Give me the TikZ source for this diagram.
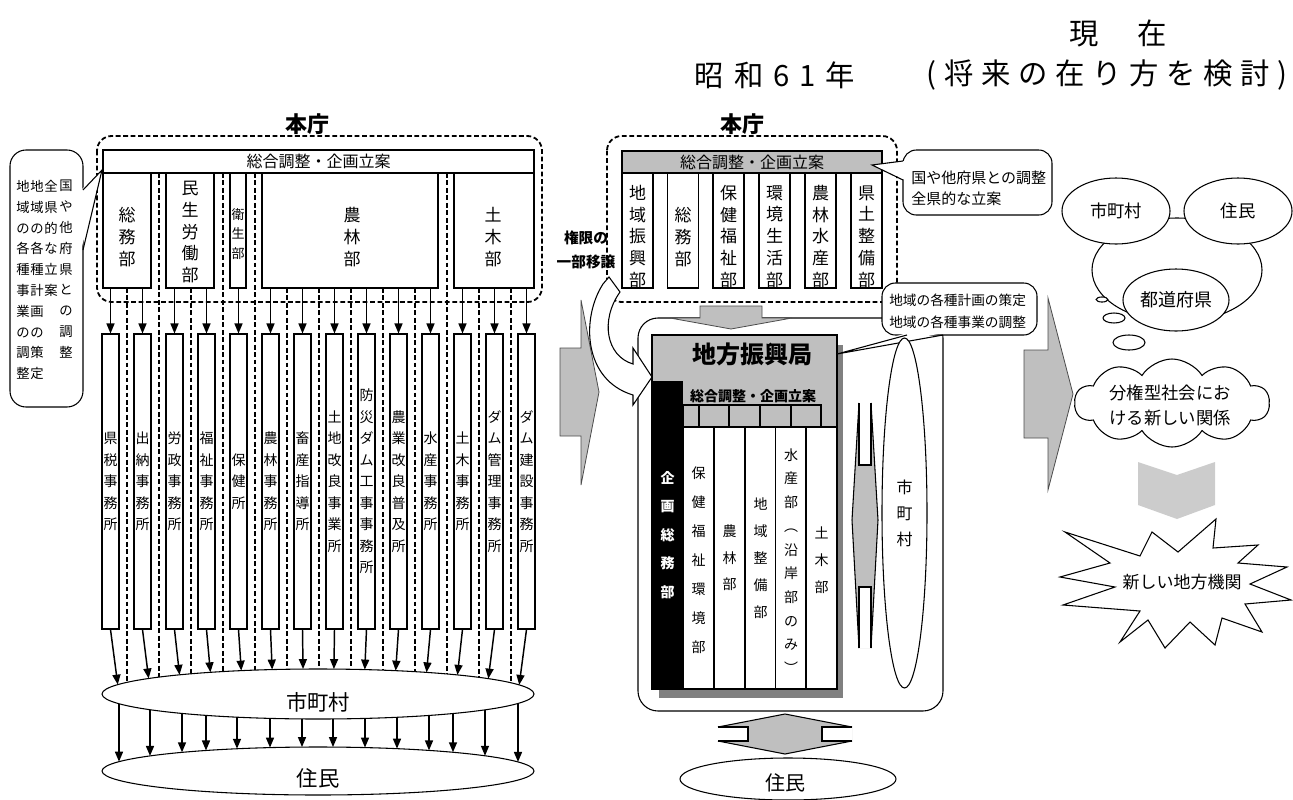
\documentclass[tikz,border=0pt]{standalone}
\usepackage{fontspec}
\setmainfont{Noto Sans CJK JP}
\usetikzlibrary{arrows.meta,shapes.symbols,shapes.geometric,calc}
\definecolor{gbar}{gray}{0.75}
\definecolor{gshadow}{gray}{0.5}
\definecolor{gchev}{gray}{0.8}
\definecolor{gline}{gray}{0.3}
\newcommand\fsz[2]{\fontsize{#1}{#2}\selectfont}
\begin{document}
\begin{tikzpicture}[x=0.75pt,y=-0.75pt,
  ln/.style={line width=0.8pt},
  wbox/.style={draw,line width=0.8pt,fill=white,inner sep=0pt},
  dsh/.style={line width=1.35pt,dash pattern=on 3.6pt off 2pt},
  arr/.style={line width=1.1pt,-{Triangle[length=7.5pt,width=6pt]}},
  vt/.style={align=center,inner sep=0pt},
  blk/.style={draw=gline,line width=0.6pt,fill=gbar},
  ttl/.style={font=\fsz{22}{26}\addfontfeatures{LetterSpace=26},inner sep=0pt},
  bub/.style={draw,line width=0.8pt,fill=white,ellipse,inner sep=0pt},
  ofc/.style={wbox,align=center,minimum width=12.75pt,minimum height=221.25pt,font=\fsz{10.5}{16.1}},
  ldep/.style={wbox,minimum height=86.25pt},
  mdep/.style={wbox,minimum width=23.25pt,minimum height=86.25pt},
  kdep/.style={wbox,minimum width=23.25pt,minimum height=196.5pt},
]
\useasboundingbox (0,0) rectangle (1293,800);

% ---------- titles ----------
\node[inner sep=0pt,font=\fsz{22}{26}] (t1) at (1118,33) {現\hspace{29pt}在};
\node[ttl,font=\fsz{22}{26}\addfontfeatures{LetterSpace=34}] (t2) at (775,75) {昭和61年};
\node[ttl] (t3) at (1107,75) {(将来の在り方を検討)};

% ---------- LEFT: 昭和 structure ----------
\node[font=\fsz{16.5}{20}\bfseries,inner sep=0pt] (lhon) at (307,124) {本庁};
\draw[dsh,rounded corners=11pt] (97,136) rectangle (542,302);

% dashed lines to 市町村
\foreach \x/\ys in {127/288,159/173,191/288,223/173,255/173,287/288,319/288,351/288,383/288,415/288,447/173,479/288,511/288}{
  \pgfmathsetmacro\ye{694-25*sqrt(1-((\x-318)/216)^2)}
  \draw[dsh] (\x,\ys) -- (\x,\ye);
}

\node[wbox,minimum width=323.25pt,minimum height=17.25pt,font=\fsz{12}{14}] (lbar) at (318.5,161.5) {総合調整・企画立案};
\node[ldep,minimum width=36pt] (ld1) at (127,230.5) {};
\node[ldep,minimum width=36pt] (ld2) at (190,230.5) {};
\node[ldep,minimum width=12pt] (ld3) at (238,230.5) {};
\node[ldep,minimum width=132pt] (ld4) at (350,230.5) {};
\node[ldep,minimum width=60pt] (ld5) at (494,230.5) {};
\node[vt,font=\fsz{12.75}{16.3}] (ld1t) at (127,237) {総\\務\\部};
\node[vt,font=\fsz{12.75}{16.3}] (ld2t) at (190,232) {民\\生\\労\\働\\部};
\node[vt,font=\fsz{9.75}{14.3}] (ld3t) at (238,234) {衛\\生\\部};
\node[vt,font=\fsz{12.75}{16.3}] (ld4t) at (352,237) {農\\林\\部};
\node[vt,font=\fsz{12.75}{16.3}] (ld5t) at (493,237) {土\\木\\部};

% offices
\foreach \k/\t in {1/{県\\税\\事\\務\\所},2/{出\\納\\事\\務\\所},3/{労\\政\\事\\務\\所},4/{福\\祉\\事\\務\\所},5/{保\\健\\所},6/{農\\林\\事\\務\\所},7/{畜\\産\\指\\導\\所},8/{土\\地\\改\\良\\事\\業\\所},9/{防\\災\\ダ\\ム\\工\\事\\事\\務\\所},10/{農\\業\\改\\良\\普\\及\\所},11/{水\\産\\事\\務\\所},12/{土\\木\\事\\務\\所},13/{ダ\\ム\\管\\理\\事\\務\\所},14/{ダ\\ム\\建\\設\\事\\務\\所}}{
  \node[ofc] (lo\k) at ({110.5+32*(\k-1)},481.5) {\t};
}
% dept -> office arrows
\foreach \o/\d in {1/ld1,2/ld1,3/ld2,4/ld2,5/ld3,6/ld4,7/ld4,8/ld4,9/ld4,10/ld4,11/ld4,12/ld5,13/ld5,14/ld5}{
  \draw[arr] (lo\o.north |- \d.south) -- (lo\o.north);
}

% ellipses
\node[bub,minimum width=324pt,minimum height=37.5pt] (lshi) at (318,694) {};
\node[inner sep=0pt,font=\fsz{16}{18}] (lshit) at (318,702) {市町村};
\node[bub,minimum width=324pt,minimum height=36pt] (ljum) at (318,771) {};
\node[inner sep=0pt,font=\fsz{16}{18}] (ljumt) at (318,778) {住民};

% office -> 市町村
\foreach \k in {1,...,14}{
  \pgfmathsetmacro\xs{110.5+32*(\k-1)}
  \pgfmathsetmacro\xe{\xs+(318-\xs)*0.035}
  \pgfmathsetmacro\ye{694-25*sqrt(1-((\xe-318)/216)^2)}
  \draw[arr] (lo\k.south) -- (\xe,\ye);
}
% 市町村 -> 住民
\foreach \x in {119,150,182,206,237,270,302,333,365,397,429,453,485,518}{
  \pgfmathsetmacro\ys{694+25*sqrt(1-((\x-318)/216)^2)}
  \pgfmathsetmacro\ye{771-24*sqrt(1-((\x-318)/216)^2)}
  \draw[arr] (\x,\ys) -- (\x,\ye);
}

% left callout
\draw[ln,fill=white,rounded corners=12pt] (10,150) rectangle (83,407);
\fill[white] (81,190) -- (102,170) -- (81,250) -- cycle;
\draw[ln] (83,190) -- (102,170) -- (83,250);
\node[vt,font=\fsz{10}{15.6},anchor=north] (lc1) at (23,180) {地\\域\\の\\各\\種\\事\\業\\の\\調\\整};
\node[vt,font=\fsz{10}{15.6},anchor=north] (lc2) at (37,180) {地\\域\\の\\各\\種\\計\\画\\の\\策\\定};
\node[vt,font=\fsz{10}{15.6},anchor=north] (lc3) at (51,180) {全\\県\\的\\な\\立\\案};
\node[vt,font=\fsz{10}{15.6},anchor=north] (lc4) at (66,180) {国\\や\\他\\府\\県\\と\\の\\調\\整};

% ---------- big gray arrows ----------
\draw[blk] (560,348) -- (581,348) -- (581,300) -- (599,392) -- (581,485) -- (581,436) -- (560,436) -- cycle;
\draw[blk] (1024,350) -- (1048,350) -- (1048,298) -- (1073,394) -- (1048,490) -- (1048,438) -- (1024,438) -- cycle;

% ---------- MIDDLE: 現在 ----------
\node[font=\fsz{16.5}{20}\bfseries,inner sep=0pt] (mhon) at (742,124) {本庁};
\draw[dsh,rounded corners=11pt] (607,136) rectangle (897,302);
\node[draw,ln,fill=gbar,inner sep=0pt,minimum width=195pt,minimum height=16.5pt,font=\fsz{12}{14}] (mbar) at (752,162) {総合調整・企画立案};
\node[mdep] (md1) at (637.5,230.5) {};
\node[mdep] (md2) at (683,230.5) {};
\node[mdep] (md3) at (728.5,230.5) {};
\node[mdep] (md4) at (774.5,230.5) {};
\node[mdep] (md5) at (820.5,230.5) {};
\node[mdep] (md6) at (866.5,230.5) {};
\node[vt,font=\fsz{12.75}{16.3}] (md1t) at (637.5,236.5) {地\\域\\振\\興\\部};
\node[vt,font=\fsz{12.75}{16.3}] (md2t) at (683,237) {総\\務\\部};
\node[vt,font=\fsz{12.75}{16.3}] (md3t) at (728.5,236.5) {保\\健\\福\\祉\\部};
\node[vt,font=\fsz{12.75}{16.3}] (md4t) at (774.5,236.5) {環\\境\\生\\活\\部};
\node[vt,font=\fsz{12.75}{16.3}] (md5t) at (820.5,236.5) {農\\林\\水\\産\\部};
\node[vt,font=\fsz{12.75}{16.3}] (md6t) at (866.5,236.5) {県\\土\\整\\備\\部};

% callout top right
\draw[ln,fill=white,rounded corners=10pt] (903,150) rectangle (1052,215);
\fill[white] (905,161) -- (872,165) -- (905,180) -- cycle;
\draw[ln] (903,161) -- (872,165) -- (903,180);
\node[align=left,anchor=west,inner sep=0pt,font=\fsz{11.25}{15.75}] (mc1) at (911,188) {国や他府県との調整\\全県的な立案};

% big rounded container
\draw[ln,fill=white,rounded corners=15pt] (638,318) rectangle (943,711);
\draw[blk] (700,306) -- (762,306) -- (762,318) -- (792,318) -- (731,329) -- (670,318) -- (700,318) -- cycle;

% 地方振興局
\fill[gshadow] (659,345) rectangle (843,698);
\node[draw,ln,fill=gbar,inner sep=0pt,minimum width=138.75pt,minimum height=265.5pt] (kyoku) at (744.5,512) {};
\fill (652,381) rectangle (683,689);
\node[inner sep=0pt,font=\fsz{18}{20}\bfseries] (kyokut) at (752,354) {地方振興局};
\node[inner sep=0pt,font=\fsz{10.5}{12}\bfseries] (ksog) at (753,397) {\underline{総合調整・企画立案}};
\foreach \a/\b in {683/699,699/729,729/760,760/791,791/821}{
  \draw[ln,fill=gbar] (\a,405) rectangle (\b,427);
}
\node[kdep] (kd1) at (698.5,558) {};
\node[kdep] (kd2) at (729.5,558) {};
\node[kdep] (kd3) at (760.5,558) {};
\node[kdep] (kd4) at (791,558) {};
\node[kdep] (kd5) at (821.5,558) {};
\node[vt,text=white,font=\fsz{10.5}{21.4}\bfseries] (kk) at (667.5,535) {企\\画\\総\\務\\部};
\node[vt,font=\fsz{10.5}{21.75}] (kd1t) at (698.5,560) {保\\健\\福\\祉\\環\\境\\部};
\node[vt,font=\fsz{10.5}{19.9}] (kd2t) at (729.5,558) {農\\林\\部};
\node[vt,font=\fsz{10.5}{20.25}] (kd3t) at (760.5,558) {地\\域\\整\\備\\部};
\node[vt,font=\fsz{10.5}{17.8}] (kd4t) at (791,561) {水\\産\\部\\︵\\沿\\岸\\部\\の\\み\\︶};
\node[vt,font=\fsz{10.5}{20.25}] (kd5t) at (821.5,560) {土\\木\\部};

% 権限の一部移譲 curved hollow arrow
\draw[ln,fill=white] (603,284) .. controls (581,318) and (583,380) .. (633,395) -- (633,405) -- (652,377) -- (633,348) -- (633,364) .. controls (606,356) and (600,320) .. (620,292) -- (609,277) -- cycle;
\node[vt,font=\fsz{11}{18}\bfseries] (kengen) at (586,250) {権限の\\一部移譲};

% callout 2
\draw[ln,fill=white,rounded corners=10pt] (882,283) rectangle (1037,335);
\fill[white] (907,333) -- (837,354) -- (943,333) -- cycle;
\draw[ln] (907,335) -- (837,354) -- (943,335);
\node[align=left,anchor=west,inner sep=0pt,font=\fsz{10.25}{16.5}] (mc2) at (889,311) {地域の各種計画の策定\\地域の各種事業の調整};

% vertical 市町村
\node[bub,align=center,minimum width=33.75pt,minimum height=262.5pt,font=\fsz{12}{19.5}] (mshi) at (904.5,513) {市\\町\\村};
% vertical double arrow
\fill[gbar] (859,403) -- (852,520) -- (859,648) -- (871,648) -- (878,520) -- (871,403) -- cycle;
\fill[white] (859,403) rectangle (871,465);
\fill[white] (859,587) rectangle (871,648);
\draw[ln] (859,403) -- (852,520) -- (859,648);
\draw[ln] (871,403) -- (878,520) -- (871,648);
\draw[ln] (859,403) -- (859,465) -- (871,465) -- (871,403);
\draw[ln] (859,648) -- (859,587) -- (871,587) -- (871,648);

% horizontal double arrow
\fill[gbar] (718,727) -- (785,714) -- (852,727) -- (852,741) -- (785,754) -- (718,741) -- cycle;
\fill[white] (718,727) rectangle (748,741);
\fill[white] (822,727) rectangle (852,741);
\draw[ln] (718,727) -- (785,714) -- (852,727);
\draw[ln] (718,741) -- (785,754) -- (852,741);
\draw[ln] (718,727) -- (748,727) -- (748,741) -- (718,741);
\draw[ln] (852,727) -- (822,727) -- (822,741) -- (852,741);

\node[bub,minimum width=162pt,minimum height=31.5pt] (mjum) at (788,779) {};
\node[inner sep=0pt,font=\fsz{15}{18}] (mjumt) at (785,783) {住民};

% ---------- RIGHT ----------
\node[bub,minimum width=127.5pt,minimum height=78pt] (rbig) at (1177,270) {};
\node[bub,minimum width=81pt,minimum height=49.5pt,font=\fsz{13}{15}] (rshi) at (1116,211) {市町村};
\node[bub,minimum width=81pt,minimum height=49.5pt,font=\fsz{13}{15}] (rjum) at (1238,211) {住民};
\node[bub,minimum width=79.5pt,minimum height=46.5pt,font=\fsz{13.5}{15}] (rken) at (1176,300) {都道府県};
\node[bub,minimum width=8.7pt,minimum height=3.8pt] (rb1) at (1102,299.5) {};
\node[bub,minimum width=16.5pt,minimum height=7.5pt] (rb2) at (1114,318) {};
\node[bub,minimum width=24pt,minimum height=11.25pt] (rb3) at (1129,342.5) {};

\node[cloud,draw,line width=0.8pt,fill=white,cloud puffs=10,cloud puff arc=115,aspect=2.2,minimum width=146pt,minimum height=66pt,inner sep=0pt] (rcloud) at (1172,403) {};
\node[vt,font=\fsz{13}{18.75}] (rcloudt) at (1170,405) {分権型社会にお\\ける新しい関係};

\fill[gchev] (1138,462) -- (1177,475) -- (1215,462) -- (1215,505) -- (1177,519) -- (1138,505) -- cycle;

\draw[ln,fill=white] (1065,532) -- (1140,556) -- (1152,532) -- (1178,552) -- (1216,519) -- (1213,548) -- (1258,545) -- (1238,563) -- (1287,567) -- (1250,584) -- (1291,600) -- (1245,604) -- (1262,632) -- (1222,618) -- (1215,645) -- (1190,622) -- (1165,648) -- (1148,620) -- (1120,642) -- (1140,611) -- (1063,605) -- (1115,587) -- (1060,577) -- (1110,563) -- cycle;
\node[inner sep=0pt,font=\fsz{12.75}{15}] (rnew) at (1182,582) {新しい地方機関};

\end{tikzpicture}
\end{document}
